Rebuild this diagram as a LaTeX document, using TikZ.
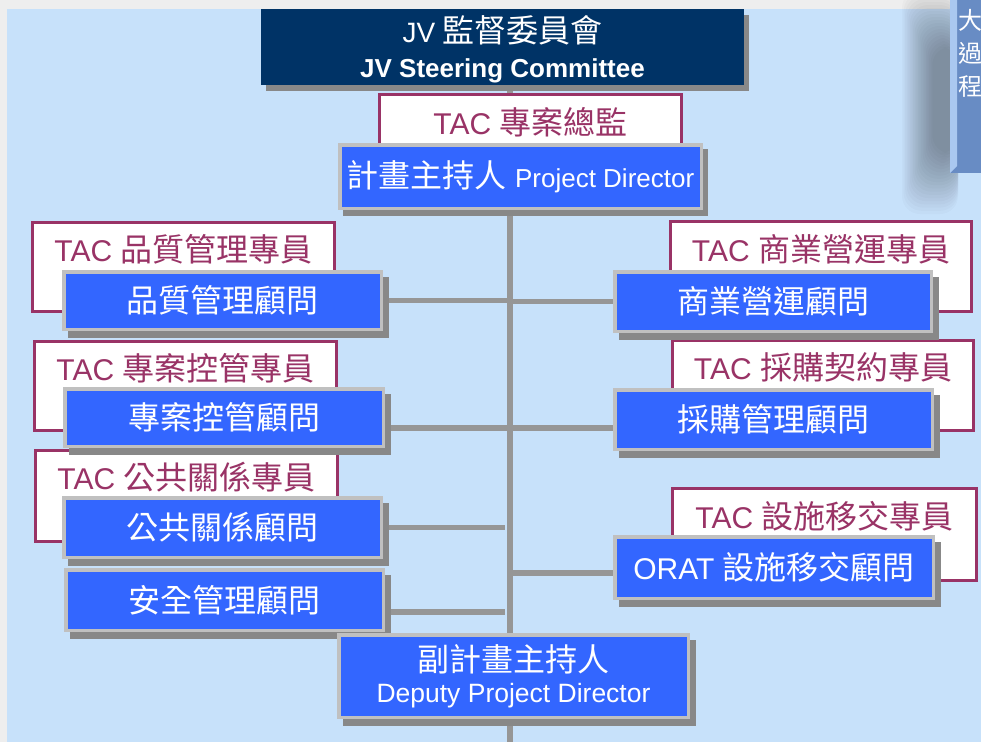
\documentclass[tikz,border=0pt]{standalone}
\usepackage{fontspec}
\setmainfont{Liberation Sans}
\newfontfamily\cjk{Noto Sans CJK TC}
\newcommand\zh[1]{{\cjk\fontsize{32}{36}\selectfont #1}}
\definecolor{bgblue}{RGB}{199,225,250}
\definecolor{strip}{RGB}{238,238,238}
\definecolor{navy}{RGB}{0,51,102}
\definecolor{maroon}{RGB}{153,51,102}
\definecolor{boxblue}{RGB}{51,102,255}
\definecolor{boxrim}{RGB}{192,192,192}
\definecolor{shadowc}{RGB}{136,136,136}
\definecolor{linec}{RGB}{150,150,150}
\definecolor{panel}{RGB}{104,140,196}
\definecolor{panelrim}{RGB}{170,200,240}
\pgfdeclarelayer{bgl}
\pgfdeclarelayer{lines}
\pgfdeclarelayer{tac}
\pgfdeclarelayer{shade}
\pgfsetlayers{bgl,lines,tac,shade,main}
\newcommand\boxshadow[2][6pt]{\fill[shadowc] ([shift={(#1,-#1-1pt)}]#2.south west) rectangle ([shift={(#1,-#1-1pt)}]#2.north east);}
\tikzset{
  tacbox/.style 2 args={draw=maroon, line width=3pt, fill=white, minimum width=#1pt-3pt, minimum height=#2pt-3pt, inner sep=0pt},
  tactext/.style={text=maroon, inner sep=0pt, font=\fontsize{30}{34}\selectfont},
  bluebox/.style 2 args={draw=boxrim, line width=3.5pt, fill=boxblue, minimum width=#1pt-3.5pt, minimum height=#2pt-3.5pt, inner sep=0pt, text=white, font=\fontsize{30}{34}\selectfont},
  conn/.style={draw=linec, line width=5.5pt}
}
\begin{document}
\begin{tikzpicture}[x=1pt,y=-1pt]
\useasboundingbox (0,0) rectangle (981,742);
\begin{pgfonlayer}{bgl}
  \fill[strip] (0,0) rectangle (981,742);
  \fill[bgblue] (7,9) rectangle (981,742);
  \foreach \i in {0,...,19}{
    \fill[black, opacity=0.02, rounded corners=18pt] (902+1.6*\i,-10+3*\i) rectangle (958,214-3.2*\i);
  }
  \fill[panel] (950,0) rectangle (985,173);
  \fill[panelrim] (950,0) -- (957,0) -- (957,166) -- (950,173) -- cycle;
  \node[text=white, anchor=north west, inner sep=0pt, align=left, font=\fontsize{24}{33}\selectfont\cjk] (panelt) at (958,9) {大\\過\\程};
\end{pgfonlayer}

% top nodes
\node[fill=navy, minimum width=483pt, minimum height=76pt, inner sep=0pt, text=white, align=center, font=\fontsize{26}{35}\selectfont] (jv) at (502.5,47)
  {\rule{0pt}{32pt}{\fontsize{28}{35}\selectfont JV} \zh{監督委員會}\\\textbf{JV Steering Committee}};
\begin{pgfonlayer}{shade}\boxshadow[5pt]{jv}\end{pgfonlayer}

\begin{pgfonlayer}{tac}
  \node[tacbox={305}{67}] (dt) at (530.5,126.5) {};
  \node[tactext] (dt-l) at ([yshift=-29pt]dt.north) {TAC \zh{專案總監}};
  \node[tacbox={305}{92}] (qt) at (183.5,267) {};
  \node[tactext] (qt-l) at ([yshift=-28pt]qt.north) {TAC \zh{品質管理專員}};
  \node[tacbox={305}{92}] (pt) at (185.5,386) {};
  \node[tactext] (pt-l) at ([yshift=-28pt]pt.north) {TAC \zh{專案控管專員}};
  \node[tacbox={305}{94}] (rt) at (186.5,496) {};
  \node[tactext] (rt-l) at ([yshift=-28pt]rt.north) {TAC \zh{公共關係專員}};
  \node[tacbox={304}{93}] (bt) at (821,266.5) {};
  \node[tactext] (bt-l) at ([yshift=-29pt]bt.north) {TAC \zh{商業營運專員}};
  \node[tacbox={304}{93}] (ct) at (823,385.5) {};
  \node[tactext] (ct-l) at ([yshift=-28pt]ct.north) {TAC \zh{採購契約專員}};
  \node[tacbox={307}{95}] (ot) at (824.5,534.5) {};
  \node[tactext] (ot-l) at ([yshift=-29pt]ot.north) {TAC \zh{設施移交專員}};
\end{pgfonlayer}

\node[bluebox={365}{67}] (pd) at (520.5,176.5) {\zh{計畫主持人} {\fontsize{26}{30}\selectfont Project Director}};
\node[bluebox={321}{61}] (q) at (222.5,300.5) {\zh{品質管理顧問}};
\node[bluebox={322}{61}] (p) at (224,417.5) {\zh{專案控管顧問}};
\node[bluebox={321}{63}] (r) at (222.5,527.5) {\zh{公共關係顧問}};
\node[bluebox={321}{64}] (s) at (224.5,600) {\zh{安全管理顧問}};
\node[bluebox={320}{63}] (b) at (773,301.5) {\zh{商業營運顧問}};
\node[bluebox={321}{63}] (c) at (773.5,419.5) {\zh{採購管理顧問}};
\node[bluebox={322}{65}] (o) at (774,567.5) {ORAT \zh{設施移交顧問}};
\node[bluebox={353}{86}] (dp) at (513.5,676) [align=center, font=\fontsize{26.5}{31}\selectfont]
  {\zh{副計畫主持人}\\Deputy Project Director};

\begin{pgfonlayer}{shade}
  \boxshadow[5pt]{pd}
  \boxshadow{q}\boxshadow{p}\boxshadow{r}\boxshadow{s}
  \boxshadow{b}\boxshadow{c}\boxshadow{o}\boxshadow{dp}
\end{pgfonlayer}

\coordinate (vend) at (510,742);
\coordinate (vl) at (505,742);
\coordinate (pj) at ([yshift=-10.5pt]p.east);
\coordinate (sj) at ([yshift=-12pt]s.east);
\coordinate (cj) at ([yshift=-8.5pt]c.west);
\coordinate (oj) at ([yshift=-5.5pt]o.west);
\begin{pgfonlayer}{lines}
  \draw[conn] (jv.south -| vend) -- (vend);
  \draw[conn] (q.east) -- (q.east -| vend);
  \draw[conn] (pj) -- (pj -| vend);
  \draw[conn] (r.east) -- (r.east -| vl);
  \draw[conn] (sj) -- (sj -| vl);
  \draw[conn] (b.west) -- (b.west -| vend);
  \draw[conn] (cj) -- (cj -| vend);
  \draw[conn] (oj) -- (oj -| vend);
\end{pgfonlayer}
\end{tikzpicture}
\end{document}
